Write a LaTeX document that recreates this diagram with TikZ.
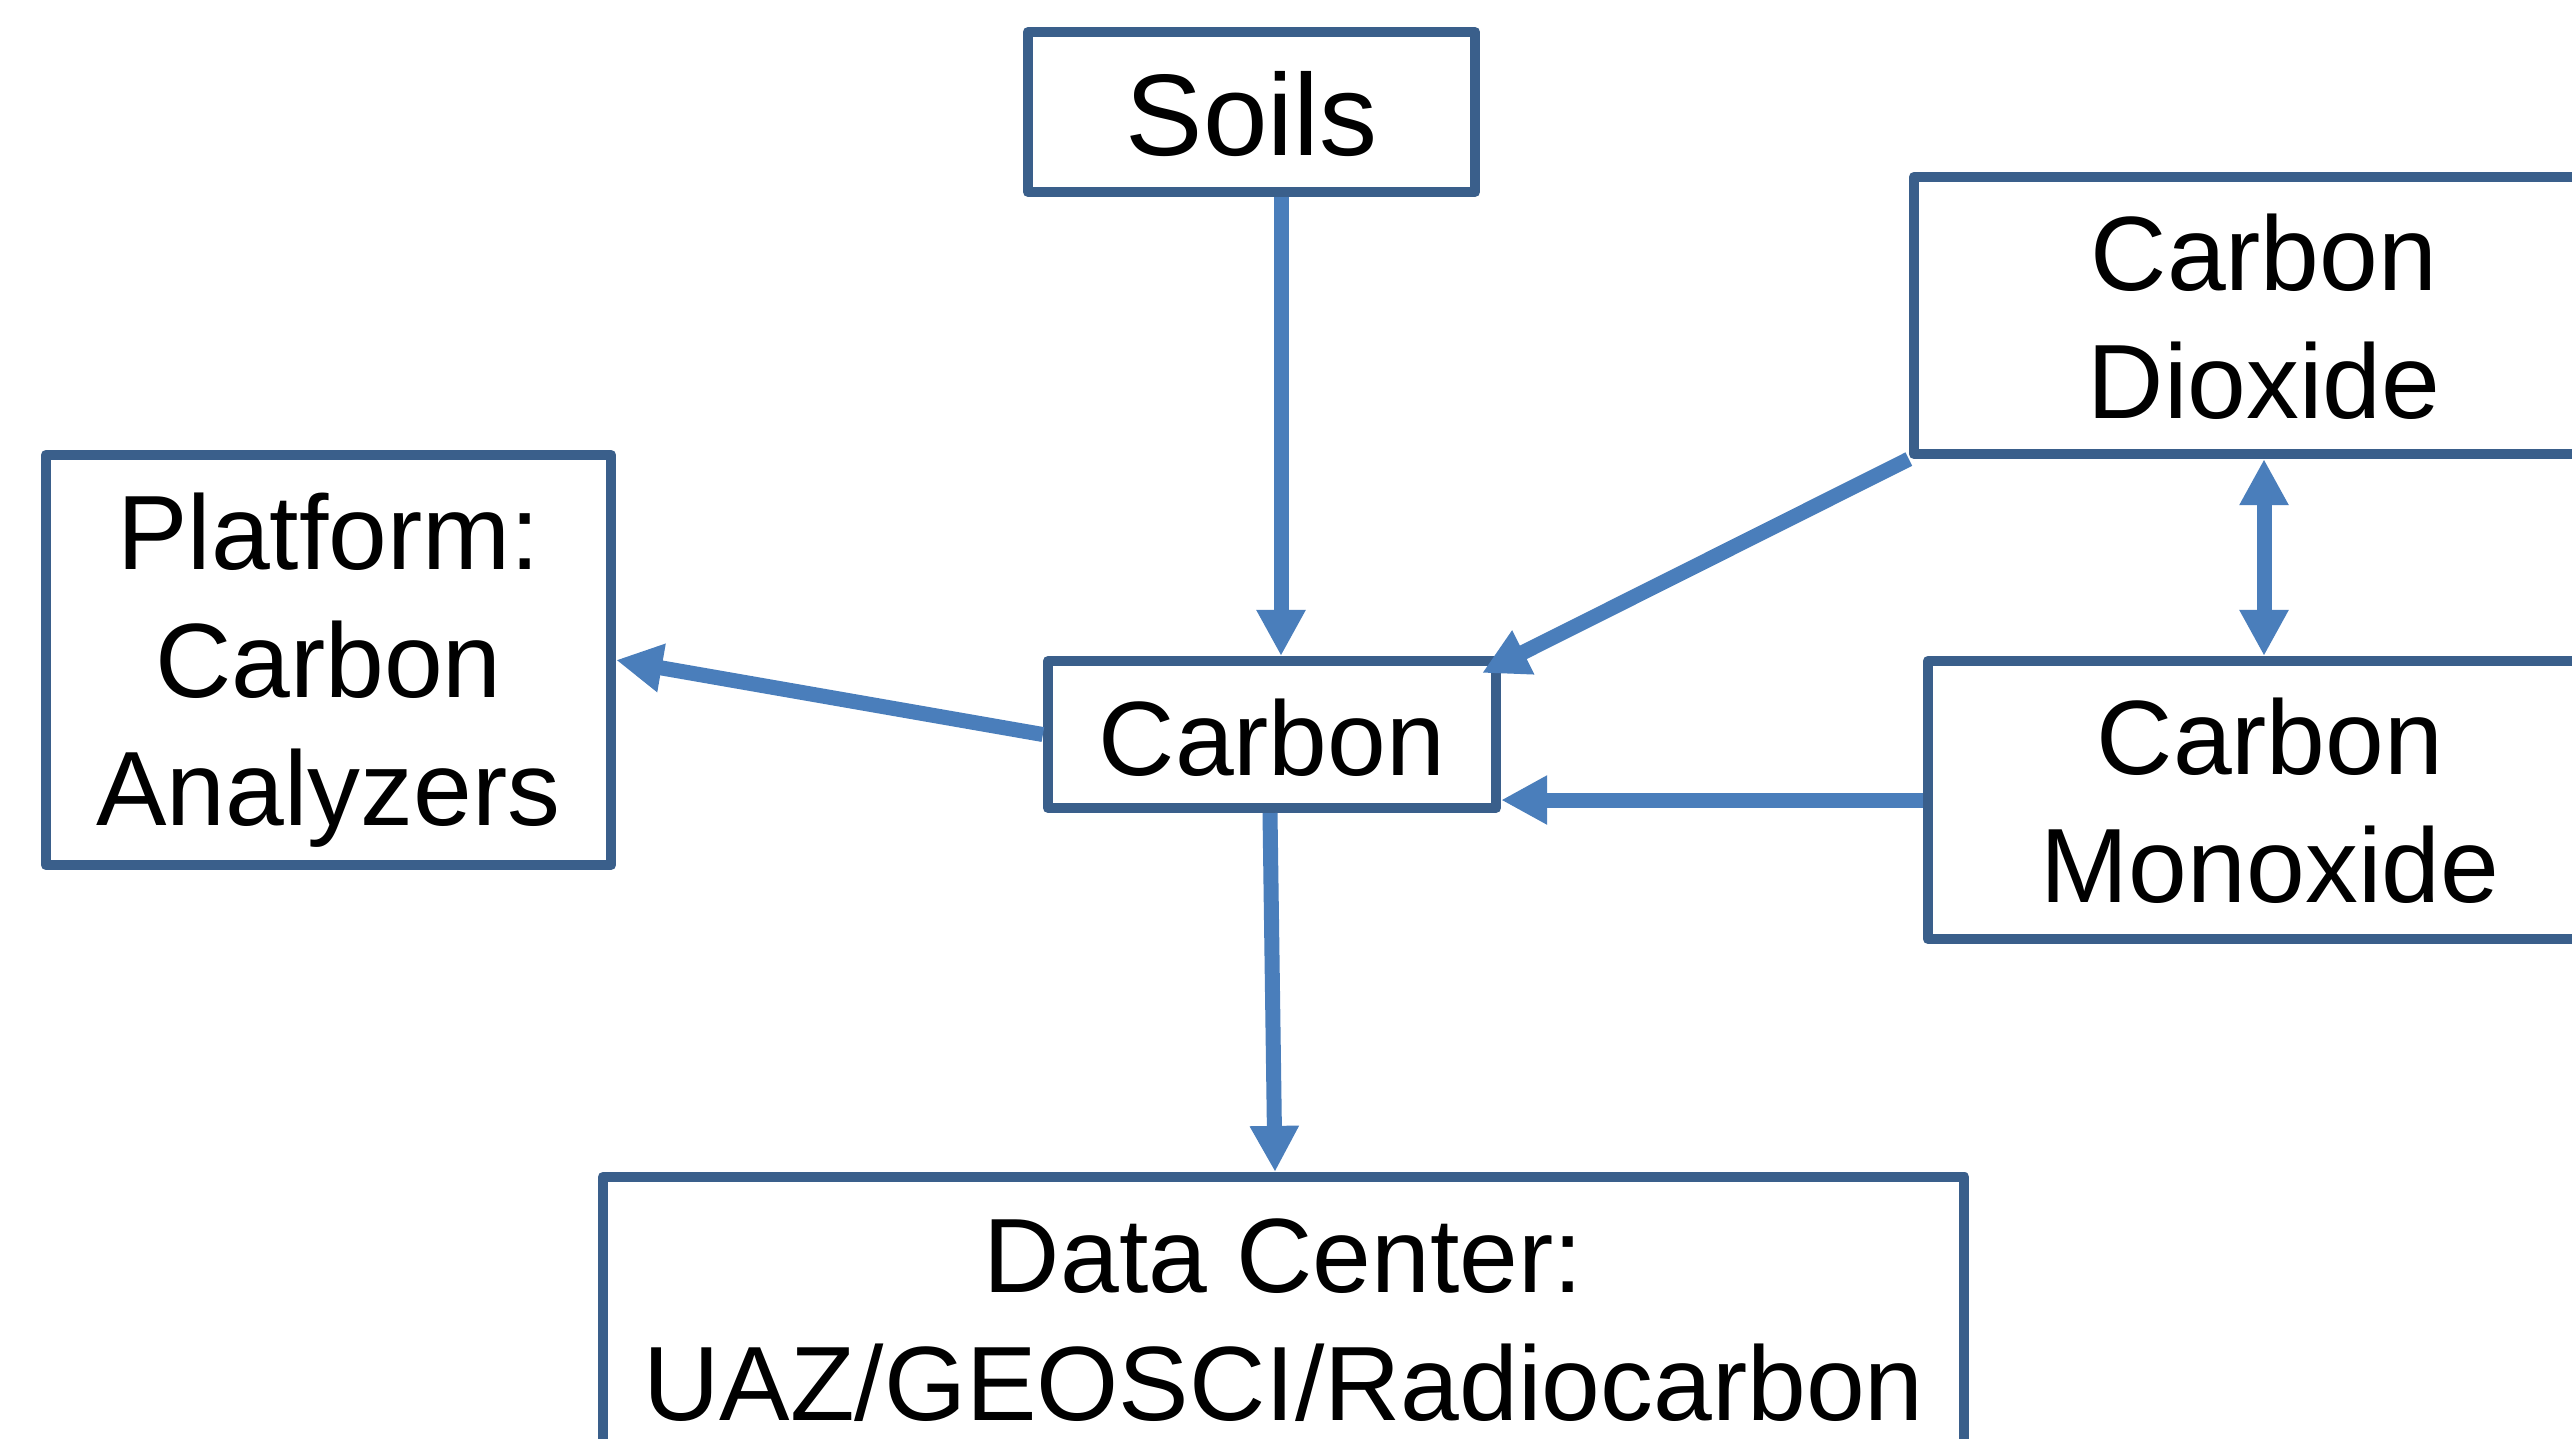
\documentclass[tikz,border=0pt]{standalone}
\usepackage{fontspec}
\setmainfont{Liberation Sans}
\usetikzlibrary{arrows.meta}
\definecolor{boxblue}{HTML}{3A5F8B}
\definecolor{arrowblue}{HTML}{4A7EBB}
\begin{document}
\begin{tikzpicture}[x=0.01cm,y=-0.01cm,
  box/.style={draw=boxblue, line width=0.1cm, line join=round, fill=white, inner sep=0pt, anchor=center},
  lbl/.style={anchor=base, inner sep=0pt, font=\fontsize{30.05pt}{36pt}\selectfont},
  biglbl/.style={anchor=base, inner sep=0pt, font=\fontsize{33.0pt}{40pt}\selectfont},
  conn/.style={draw=arrowblue, line width=0.15cm, -{Triangle[length=0.46cm,width=0.46cm]}},
  dconn/.style={draw=arrowblue, line width=0.15cm, {Triangle[length=0.46cm,width=0.46cm]}-{Triangle[length=0.46cm,width=0.46cm]}}
]
\useasboundingbox (0,0) rectangle (2572,1438);
\clip (0,0) rectangle (2572,1438);
\fill[white] (0,0) rectangle (2572,1438);

% boxes
\node[box, minimum width=4.47cm, minimum height=1.60cm] (soils) at (1251.5,112) {};
\node[box, minimum width=7.00cm, minimum height=2.77cm] (co2) at (2264,315.5) {};
\node[box, minimum width=5.65cm, minimum height=4.10cm] (platform) at (328.5,660) {};
\node[box, minimum width=4.48cm, minimum height=1.47cm] (carbon) at (1272,734.5) {};
\node[box, minimum width=6.84cm, minimum height=2.78cm] (cm) at (2270,800) {};
\node[box, minimum width=13.61cm, minimum height=2.81cm] (dc) at (1283.5,1317.5) {};

% labels
\node[biglbl] (soilsT) at (1251.5,155) {Soils};
\node[lbl] (carbonT) at (1272,775) {Carbon};
\node[lbl] (co2A) at (2264,290) {Carbon};
\node[lbl] (co2B) at (2264,418) {Dioxide};
\node[lbl] (cmA) at (2270,774) {Carbon};
\node[lbl] (cmB) at (2270,902) {Monoxide};
\node[lbl] (plA) at (328.5,569) {Platform:};
\node[lbl] (plB) at (328.5,697) {Carbon};
\node[lbl] (plC) at (328.5,825) {Analyzers};
\node[lbl] (dcA) at (1283.5,1292) {Data Center:};
\node[lbl] (dcB) at (1283.5,1420) {UAZ/GEOSCI/Radiocarbon};

% connectors
\coordinate (sx) at (1281,0);
\draw[conn] (soils.south -| sx) -- (carbon.north -| sx);
\draw[conn] (co2.south west) -- ([shift={(-19,17)}]carbon.north east);
\draw[conn] (carbon.west) -- (platform.east);
\draw[conn] (cm.west) -- (cm.west -| carbon.east);
\draw[dconn] (co2.south) -- (co2.south |- cm.north);
\draw[conn] ([shift={(-2,0)}]carbon.south) -- ([shift={(-8.5,0)}]dc.north);
\end{tikzpicture}
\end{document}
